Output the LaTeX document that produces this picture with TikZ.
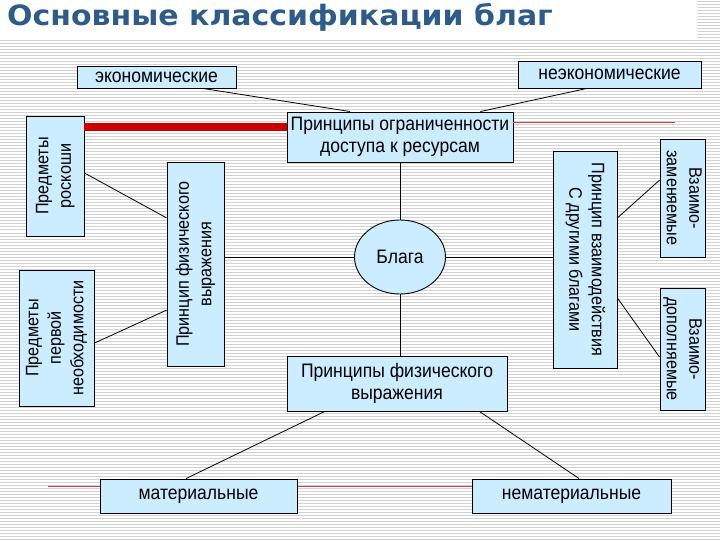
\documentclass[tikz,border=0pt]{standalone}
\usepackage{fontspec}
\usepackage{graphicx}
\setmainfont{Liberation Sans}
\newfontfamily\hfont[FakeStretch=0.9]{Liberation Sans}
\newfontfamily\titlefont[FakeStretch=1.07]{DejaVu Sans}
\usetikzlibrary{calc,shapes.geometric}
\definecolor{boxfill}{HTML}{CCECFF}
\definecolor{titleblue}{HTML}{2E5C8A}
\definecolor{stripegray}{HTML}{D2D2D2}
\definecolor{redthick}{HTML}{CC0000}
\definecolor{redthin}{HTML}{C84040}
\newcommand{\myvert}[2]{\rotatebox{#1}{\fontsize{18}{22.5}\selectfont\begin{tabular}{@{}c@{}}#2\end{tabular}}}
\tikzset{
  box/.style={draw=black, line width=0.9pt, fill=boxfill, inner sep=0pt, align=center,
    font=\hfont\fontsize{19.5}{22}\selectfont},
  conn/.style={draw=black, line width=0.8pt},
  stripe/.style={draw=stripegray, line width=1pt},
}
\begin{document}
\begin{tikzpicture}[x=1pt,y=-1pt]
\useasboundingbox (0,0) rectangle (720,540);
\fill[white] (0,0) rectangle (720,540);
% background stripes
\foreach \yy in {41,44,...,539} \draw[stripe] (0,\yy) -- (720,\yy);
\foreach \yy in {2,5,...,38} \draw[stripe] (697,\yy) -- (720,\yy);
% title
\node[anchor=base west, inner sep=0pt, text=titleblue,
  font=\titlefont\bfseries\fontsize{28}{32}\selectfont] (title) at (7,26) {Основные классификации благ};
% bottom thin red line (behind boxes)
\coordinate (redB1) at (48,486);
\coordinate (redB2) at (671,486);
\draw[redthin, line width=1pt] (redB1) -- (redB2);
% nodes
\node[box, minimum width=159pt, minimum height=22pt] (eco) at (156.5,77) {экономические};
\node[box, minimum width=183pt, minimum height=27pt] (noneco) at (609.5,74.5) {неэкономические};
\node[box, minimum width=226pt, minimum height=50pt] (ogr) at (400,137) {Принципы ограниченности\\доступа к ресурсам};
\node[box, minimum width=58pt, minimum height=120pt] (rosk) at (55,176) {\myvert{90}{Предметы\\роскоши}};
\node[box, minimum width=75pt, minimum height=136pt] (neobh) at (56.5,338) {\myvert{90}{Предметы\\первой\\необходимости}};
\node[box, minimum width=57pt, minimum height=204pt] (fizV) at (195.5,264) {\myvert{90}{Принцип физического\\выражения}};
\node[box, ellipse, minimum width=91pt, minimum height=74pt] (blaga) at (400,257) {Блага};
\node[box, minimum width=64pt, minimum height=217pt] (vzaim) at (585,259.5) {\myvert{-90}{Принцип взаимодействия\\С другими благами}};
\node[box, minimum width=45pt, minimum height=118pt] (zamen) at (682.5,198) {\myvert{-90}{Взаимо-\\заменяемые}};
\node[box, minimum width=45pt, minimum height=122pt] (dopoln) at (682.5,349) {\myvert{-90}{Взаимо-\\дополняемые}};
\node[box, minimum width=220pt, minimum height=55pt] (fizH) at (397,383.5) {Принципы физического\\выражения};
\node[box, minimum width=197pt, minimum height=34pt] (mat) at (198.5,496) {материальные};
\node[box, minimum width=199pt, minimum height=34pt] (nemat) at (571.5,496) {нематериальные};
% red lines
\coordinate (roskR) at ($(rosk.north east)!0.092!(rosk.south east)$);
\draw[redthick, line width=8pt] (roskR) -- (roskR -| ogr.west);
\coordinate (redT1) at ($(ogr.north east)!0.22!(ogr.south east)$);
\coordinate (redT2) at (675,123);
\draw[redthin, line width=1pt] (redT1) -- (redT1 -| redT2);
% connectors
\draw[conn] ($(eco.south west)!0.79!(eco.south east)$) -- ($(ogr.north west)!0.28!(ogr.north east)$);
\draw[conn] ($(noneco.south west)!0.377!(noneco.south east)$) -- ($(ogr.north west)!0.854!(ogr.north east)$);
\draw[conn] ($(rosk.north east)!0.475!(rosk.south east)$) -- ($(fizV.north west)!0.275!(fizV.south west)$);
\draw[conn] ($(neobh.north east)!0.537!(neobh.south east)$) -- ($(fizV.north west)!0.725!(fizV.south west)$);
\draw[conn] (blaga.west) -- (blaga.west -| fizV.east);
\draw[conn] (blaga.north) -- (blaga.north |- ogr.south);
\draw[conn] (blaga.south) -- (blaga.south |- fizH.north);
\draw[conn] (blaga.east) -- (blaga.east -| vzaim.west);
\draw[conn] ($(vzaim.north east)!0.309!(vzaim.south east)$) -- ($(zamen.north west)!0.35!(zamen.south west)$);
\draw[conn] ($(vzaim.north east)!0.677!(vzaim.south east)$) -- ($(dopoln.north west)!0.566!(dopoln.south west)$);
\draw[conn] ($(fizH.south west)!0.173!(fizH.south east)$) -- ($(mat.north west)!0.437!(mat.north east)$);
\draw[conn] ($(fizH.south west)!0.873!(fizH.south east)$) -- ($(nemat.north west)!0.538!(nemat.north east)$);
\end{tikzpicture}
\end{document}
